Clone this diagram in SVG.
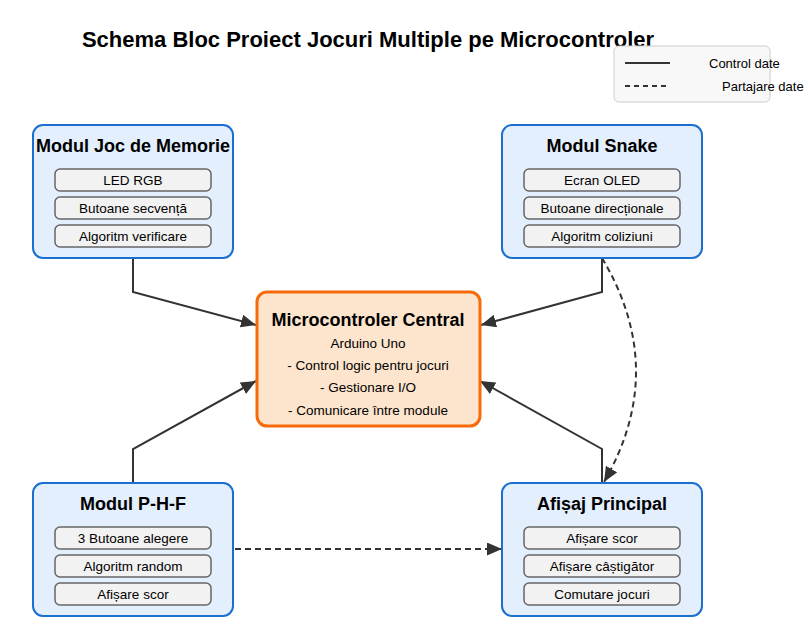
<svg xmlns="http://www.w3.org/2000/svg" width="812" height="631" viewBox="0 0 812 631">
<defs>
<marker id="arr" markerUnits="userSpaceOnUse" markerWidth="16" markerHeight="14" refX="15" refY="6.5" orient="auto-start-reverse">
<path d="M0,0 L15,6.5 L0,13 z" fill="#333"/>
</marker>
<style>
text{font-family:"Liberation Sans",Arial,sans-serif;fill:#000}
.title{font-size:22px;font-weight:bold;text-anchor:middle}
.mod{fill:#e3effd;stroke:#1a6fd0;stroke-width:2}
.mt{font-size:18px;font-weight:bold;text-anchor:middle}
.item{fill:#f2f2f2;stroke:#666;stroke-width:1.5}
.it{font-size:13.5px;text-anchor:middle}
.cen{fill:#fde4cc;stroke:#f66a0a;stroke-width:3}
.ct{font-size:13.5px;text-anchor:middle}
.ln{fill:none;stroke:#333;stroke-width:2}
.dash{fill:none;stroke:#333;stroke-width:2;stroke-dasharray:6,4}
.lg{font-size:13px}
</style>
</defs>
<rect width="812" height="631" fill="#fff"/>
<text class="title" x="368" y="47">Schema Bloc Proiect Jocuri Multiple pe Microcontroler</text>

<g id="legend">
<rect x="614" y="46" width="156" height="56" rx="5" fill="#f8f8f8" stroke="#ccc" stroke-width="1"/>
<line x1="625" y1="63" x2="670" y2="63" stroke="#333" stroke-width="2"/>
<text class="lg" x="709" y="68">Control date</text>
<line x1="625" y1="86" x2="670" y2="86" stroke="#333" stroke-width="2" stroke-dasharray="5,4"/>
<text class="lg" x="722" y="91">Partajare date</text>
</g>

<g id="connectors">
<polyline class="ln" points="133,258 133,292 256,325" marker-end="url(#arr)"/>
<polyline class="ln" points="602,258 602,292 481,325" marker-end="url(#arr)"/>
<polyline class="ln" points="133,483 133,449 256,381" marker-end="url(#arr)"/>
<polyline class="ln" points="602,483 602,449 480,381" marker-end="url(#arr)"/>
<path class="dash" d="M602,258 Q669,370 604,482" marker-end="url(#arr)"/>
<line class="dash" x1="235" y1="549" x2="502" y2="549" marker-end="url(#arr)"/>
</g>

<g id="memorie">
<rect class="mod" x="33" y="125" width="200" height="133" rx="10"/>
<text class="mt" x="133" y="152">Modul Joc de Memorie</text>
<rect class="item" x="55" y="169" width="156" height="22" rx="5"/>
<text class="it" x="133" y="185">LED RGB</text>
<rect class="item" x="55" y="197" width="156" height="22" rx="5"/>
<text class="it" x="133" y="213">Butoane secvență</text>
<rect class="item" x="55" y="225" width="156" height="22" rx="5"/>
<text class="it" x="133" y="241">Algoritm verificare</text>
</g>

<g id="snake">
<rect class="mod" x="502" y="125" width="200" height="133" rx="10"/>
<text class="mt" x="602" y="152">Modul Snake</text>
<rect class="item" x="524" y="169" width="156" height="22" rx="5"/>
<text class="it" x="602" y="185">Ecran OLED</text>
<rect class="item" x="524" y="197" width="156" height="22" rx="5"/>
<text class="it" x="602" y="213">Butoane direcționale</text>
<rect class="item" x="524" y="225" width="156" height="22" rx="5"/>
<text class="it" x="602" y="241">Algoritm coliziuni</text>
</g>

<g id="central">
<rect class="cen" x="257" y="292" width="223" height="134" rx="10"/>
<text class="mt" x="368" y="326">Microcontroler Central</text>
<text class="ct" x="368" y="348">Arduino Uno</text>
<text class="ct" x="368" y="370">- Control logic pentru jocuri</text>
<text class="ct" x="368" y="392">- Gestionare I/O</text>
<text class="ct" x="368" y="415">- Comunicare între module</text>
</g>

<g id="phf">
<rect class="mod" x="33" y="483" width="200" height="133" rx="10"/>
<text class="mt" x="133" y="510">Modul P-H-F</text>
<rect class="item" x="55" y="527" width="156" height="22" rx="5"/>
<text class="it" x="133" y="543">3 Butoane alegere</text>
<rect class="item" x="55" y="555" width="156" height="22" rx="5"/>
<text class="it" x="133" y="571">Algoritm random</text>
<rect class="item" x="55" y="583" width="156" height="22" rx="5"/>
<text class="it" x="133" y="599">Afișare scor</text>
</g>

<g id="afisaj">
<rect class="mod" x="502" y="483" width="200" height="133" rx="10"/>
<text class="mt" x="602" y="510">Afișaj Principal</text>
<rect class="item" x="524" y="527" width="156" height="22" rx="5"/>
<text class="it" x="602" y="543">Afișare scor</text>
<rect class="item" x="524" y="555" width="156" height="22" rx="5"/>
<text class="it" x="602" y="571">Afișare câștigător</text>
<rect class="item" x="524" y="583" width="156" height="22" rx="5"/>
<text class="it" x="602" y="599">Comutare jocuri</text>
</g>
</svg>
